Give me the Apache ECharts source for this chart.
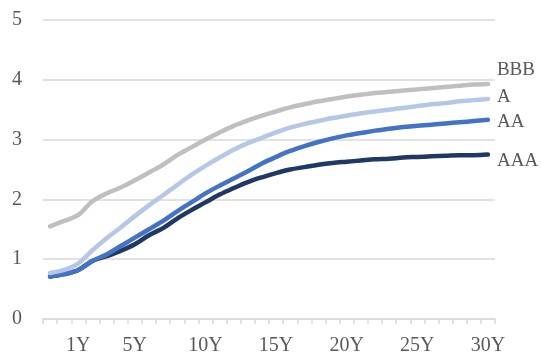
<!DOCTYPE html>
<html>
<head>
<meta charset="utf-8">
<script src="https://cdn.jsdelivr.net/npm/echarts@6/dist/echarts.min.js"></script>
<style>html,body{margin:0;padding:0;background:#fff}#c{width:541px;height:356px}</style>
</head>
<body>
<div id="c"></div>
<script>
var categories = ["3M","6M","1Y","2Y","3Y","4Y","5Y","6Y","7Y","8Y","9Y","10Y","11Y","12Y","13Y","14Y","15Y","16Y","17Y","18Y","19Y","20Y","21Y","22Y","23Y","24Y","25Y","26Y","27Y","28Y","29Y","30Y"];
var shownLabels = ["1Y","5Y","10Y","15Y","20Y","25Y","30Y"];
var seriesNames = ["BBB","A","AA","AAA"];
var bbb = [1.55,1.64,1.74,1.97,2.10,2.20,2.32,2.45,2.58,2.74,2.87,3.00,3.12,3.23,3.32,3.40,3.47,3.54,3.59,3.64,3.68,3.72,3.75,3.78,3.80,3.82,3.84,3.86,3.88,3.90,3.92,3.93];
var a   = [0.77,0.82,0.93,1.15,1.35,1.53,1.72,1.90,2.07,2.24,2.41,2.56,2.70,2.83,2.94,3.03,3.12,3.20,3.26,3.31,3.36,3.40,3.44,3.47,3.50,3.53,3.56,3.59,3.61,3.64,3.66,3.68];
var aa  = [0.71,0.75,0.82,0.97,1.08,1.22,1.36,1.50,1.64,1.80,1.95,2.10,2.23,2.35,2.47,2.60,2.71,2.81,2.89,2.96,3.02,3.07,3.11,3.15,3.18,3.21,3.23,3.25,3.27,3.29,3.31,3.33];
var aaa = [0.71,0.75,0.82,0.97,1.05,1.14,1.25,1.40,1.52,1.68,1.82,1.95,2.08,2.19,2.29,2.37,2.44,2.50,2.54,2.58,2.61,2.63,2.65,2.67,2.68,2.70,2.71,2.72,2.73,2.74,2.74,2.75];
var yTicks = [0,1,2,3,4,5];

var font = "'Liberation Serif', 'Times New Roman', serif";
var txt = '#595959';
var colors = ['#BFBFBF','#B4C7E7','#4472C4','#203864'];
var datas = [bbb, a, aa, aaa];
var labelOffsets = [[0,-14],[0,-2],[0,2],[0,6]];

var chart = echarts.init(document.getElementById('c'));
chart.setOption({
  animation: false,
  grid: {left: 43, right: 46, top: 20, bottom: 36, containLabel: false},
  xAxis: {
    type: 'category',
    data: categories,
    boundaryGap: true,
    axisLine: {lineStyle: {color: '#D9D9D9', width: 1.5}},
    axisTick: {show: true, interval: 0, length: 5, lineStyle: {color: '#D9D9D9', width: 1.5}},
    axisLabel: {
      interval: function (idx, val) { return shownLabels.indexOf(val) >= 0; },
      color: txt, fontFamily: font, fontSize: 20, margin: 17
    },
    splitLine: {show: false}
  },
  yAxis: {
    type: 'value',
    min: yTicks[0], max: yTicks[yTicks.length-1], interval: 1,
    axisLine: {show: false},
    axisTick: {show: false},
    axisLabel: {color: txt, fontFamily: font, fontSize: 20, margin: 21},
    splitLine: {lineStyle: {color: '#D9D9D9', width: 1.5}}
  },
  series: seriesNames.map(function (n, i) {
    return {
      name: n,
      type: 'line',
      data: datas[i],
      smooth: 0.35,
      showSymbol: false,
      symbol: 'none',
      z: 10 - i,
      lineStyle: {color: colors[i], width: 4.5, cap: 'round', join: 'round'},
      itemStyle: {color: colors[i]},
      endLabel: {
        show: true,
        formatter: '{a}',
        color: txt,
        fontFamily: font,
        fontSize: 19,
        distance: 9,
        offset: labelOffsets[i]
      }
    };
  })
});
</script>
</body>
</html>
